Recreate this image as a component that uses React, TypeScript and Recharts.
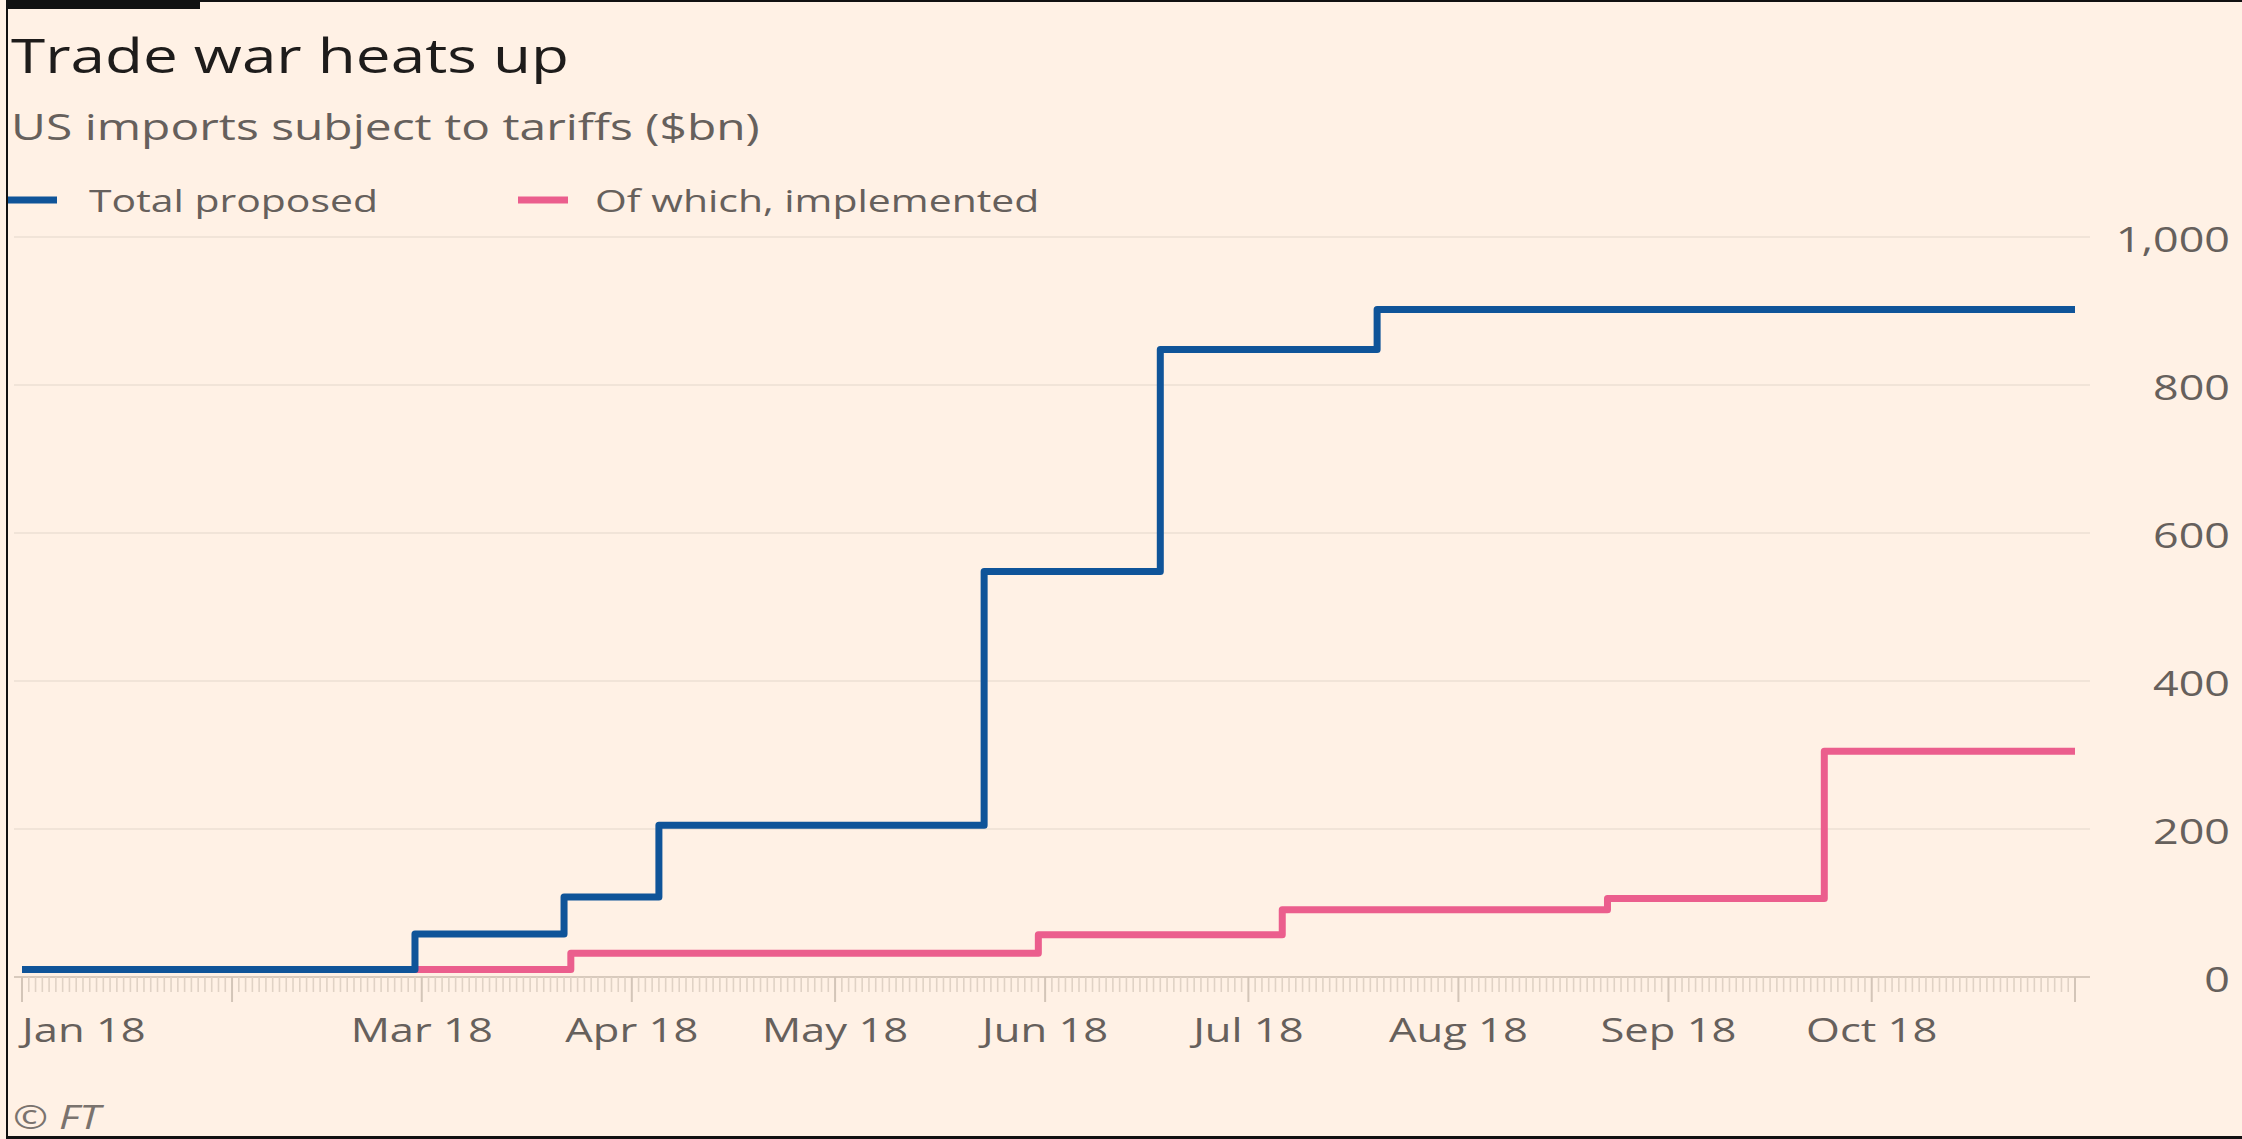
import React from 'react';
import { LineChart, Line, XAxis, YAxis, CartesianGrid } from 'recharts';

// ---- data ----
const proposedDates = ['2018-01-01', '2018-02-28', '2018-03-22', '2018-04-05', '2018-05-23', '2018-06-18', '2018-07-20', '2018-10-31'];
const proposedValues = [10, 58, 108, 205, 548, 848, 902, 902];

const implementedDates = ['2018-01-01', '2018-03-23', '2018-05-31', '2018-07-06', '2018-08-23', '2018-09-24', '2018-10-31'];
const implementedValues = [10, 32, 57, 91, 106, 305, 305];

const monthTickDates = ['2018-01-01', '2018-02-01', '2018-03-01', '2018-04-01', '2018-05-01', '2018-06-01', '2018-07-01', '2018-08-01', '2018-09-01', '2018-10-01', '2018-10-31'];
const monthTickLabels = ['Jan 18', '', 'Mar 18', 'Apr 18', 'May 18', 'Jun 18', 'Jul 18', 'Aug 18', 'Sep 18', 'Oct 18', ''];

const yTicks = [0, 200, 400, 600, 800, 1000];

const TITLE = 'Trade war heats up';
const SUBTITLE = 'US imports subject to tariffs ($bn)';
const SERIES_NAMES = ['Total proposed', 'Of which, implemented'];
const SOURCE = '\u00A9 FT';

// ---- helpers ----
const ts = (d: string) => new Date(d + 'T00:00:00Z').getTime();
const DAY = 86400000;

const proposedData = proposedDates.map((d, i) => ({ t: ts(d), v: proposedValues[i] }));
const implementedData = implementedDates.map((d, i) => ({ t: ts(d), v: implementedValues[i] }));

const domainStart = ts(monthTickDates[0]);
const domainEnd = ts(monthTickDates[monthTickDates.length - 1]);
const majorMap = new Map<number, string>();
monthTickDates.forEach((d, i) => majorMap.set(ts(d), monthTickLabels[i]));
const dailyTicks: number[] = [];
for (let t = domainStart; t <= domainEnd; t += DAY) dailyTicks.push(t);

// ---- style ----
const BG = '#fff1e5';
const BLUE = '#0f5499';
const PINK = '#eb5e8d';
const GRID = '#ecdfd3';
const AXIS = '#d8cabd';
const MINOR = '#e0d2c5';
const MAJOR = '#d3c5b8';
const TEXT = '#66605c';
const FONT = "'Open Sans', sans-serif";
const SX = 1.32;
const Y_LABEL_RIGHT = 2230;
const LINE_W = 7;

const XTick = (props: any) => {
  const { x, y, payload } = props;
  const v = payload.value as number;
  const isMajor = majorMap.has(v);
  const label = majorMap.get(v) || '';
  const isFirst = v === domainStart;
  return (
    <g>
      <line x1={x} x2={x} y1={y} y2={y + (isMajor ? 25 : 15)} stroke={isMajor ? MAJOR : MINOR} strokeWidth={isMajor ? 2 : 1.6} />
      {label ? (
        <text
          transform={`translate(${x},${y + 65}) scale(${SX},1)`}
          textAnchor={isFirst ? 'start' : 'middle'}
          fontFamily={FONT}
          fontSize={33}
          fill={TEXT}
        >
          {label}
        </text>
      ) : null}
    </g>
  );
};

const YTick = (props: any) => {
  const { y, payload } = props;
  const s = Number(payload.value).toLocaleString('en-US');
  return (
    <text
      transform={`translate(${Y_LABEL_RIGHT},${y + 15}) scale(${SX},1)`}
      textAnchor="end"
      fontFamily={FONT}
      fontSize={34}
      fill={TEXT}
    >
      {s}
    </text>
  );
};

export default function App() {
  return (
    <div style={{ position: 'fixed', left: 0, top: 0, width: 2242, height: 1139, background: BG, overflow: 'hidden' }}>
      {/* frame */}
      <div style={{ position: 'absolute', left: 6, top: 0, width: 2236, height: 2, background: '#111' }} />
      <div style={{ position: 'absolute', left: 6, top: 0, width: 194, height: 9, background: '#111' }} />
      <div style={{ position: 'absolute', left: 6, top: 0, width: 2, height: 1139, background: '#111' }} />
      <div style={{ position: 'absolute', left: 6, top: 1136, width: 2236, height: 3, background: '#111' }} />

      <svg width={2242} height={1139} style={{ position: 'absolute', left: 0, top: 0 }}>
        <text transform={`translate(11,73) scale(${SX},1)`} fontFamily={FONT} fontSize={47} fill="#1e1c1b">{TITLE}</text>
        <text transform={`translate(11,140) scale(${SX},1)`} fontFamily={FONT} fontSize={36.3} fill={TEXT}>{SUBTITLE}</text>
        <line x1={8} x2={57} y1={200} y2={200} stroke={BLUE} strokeWidth={LINE_W} />
        <text transform={`translate(89,212) scale(${SX},1)`} fontFamily={FONT} fontSize={31} fill={TEXT}>{SERIES_NAMES[0]}</text>
        <line x1={518} x2={568} y1={200} y2={200} stroke={PINK} strokeWidth={LINE_W} />
        <text transform={`translate(595,212) scale(${SX},1)`} fontFamily={FONT} fontSize={31} fill={TEXT}>{SERIES_NAMES[1]}</text>
        <text transform={`translate(13,1129) scale(${SX},1)`} fontFamily={FONT} fontStyle="italic" fontSize={32} fill="#7a736e">{SOURCE}</text>
      </svg>

      <div style={{ position: 'absolute', left: 0, top: 0 }}>
        <LineChart width={2242} height={1139} margin={{ top: 237, right: 12, bottom: 82, left: 14 }}>
          <CartesianGrid vertical={false} stroke={GRID} strokeWidth={1.5} />
          <XAxis
            dataKey="t"
            type="number"
            domain={[domainStart, domainEnd]}
            allowDataOverflow
            ticks={dailyTicks}
            interval={0}
            padding={{ left: 8, right: 15 }}
            height={80}
            tickLine={false}
            tickSize={0}
            tickMargin={0}
            axisLine={{ stroke: AXIS, strokeWidth: 2 }}
            tick={<XTick />}
          />
          <YAxis
            orientation="right"
            type="number"
            domain={[0, 1000]}
            ticks={yTicks}
            interval={0}
            width={140}
            axisLine={false}
            tickLine={false}
            tick={<YTick />}
          />
          <Line data={implementedData} dataKey="v" type="stepAfter" stroke={PINK} strokeWidth={LINE_W} dot={false} strokeLinejoin="round" strokeLinecap="round" isAnimationActive={false} />
          <Line data={proposedData} dataKey="v" type="stepAfter" stroke={BLUE} strokeWidth={LINE_W} dot={false} strokeLinejoin="round" strokeLinecap="round" isAnimationActive={false} />
        </LineChart>
      </div>
    </div>
  );
}
